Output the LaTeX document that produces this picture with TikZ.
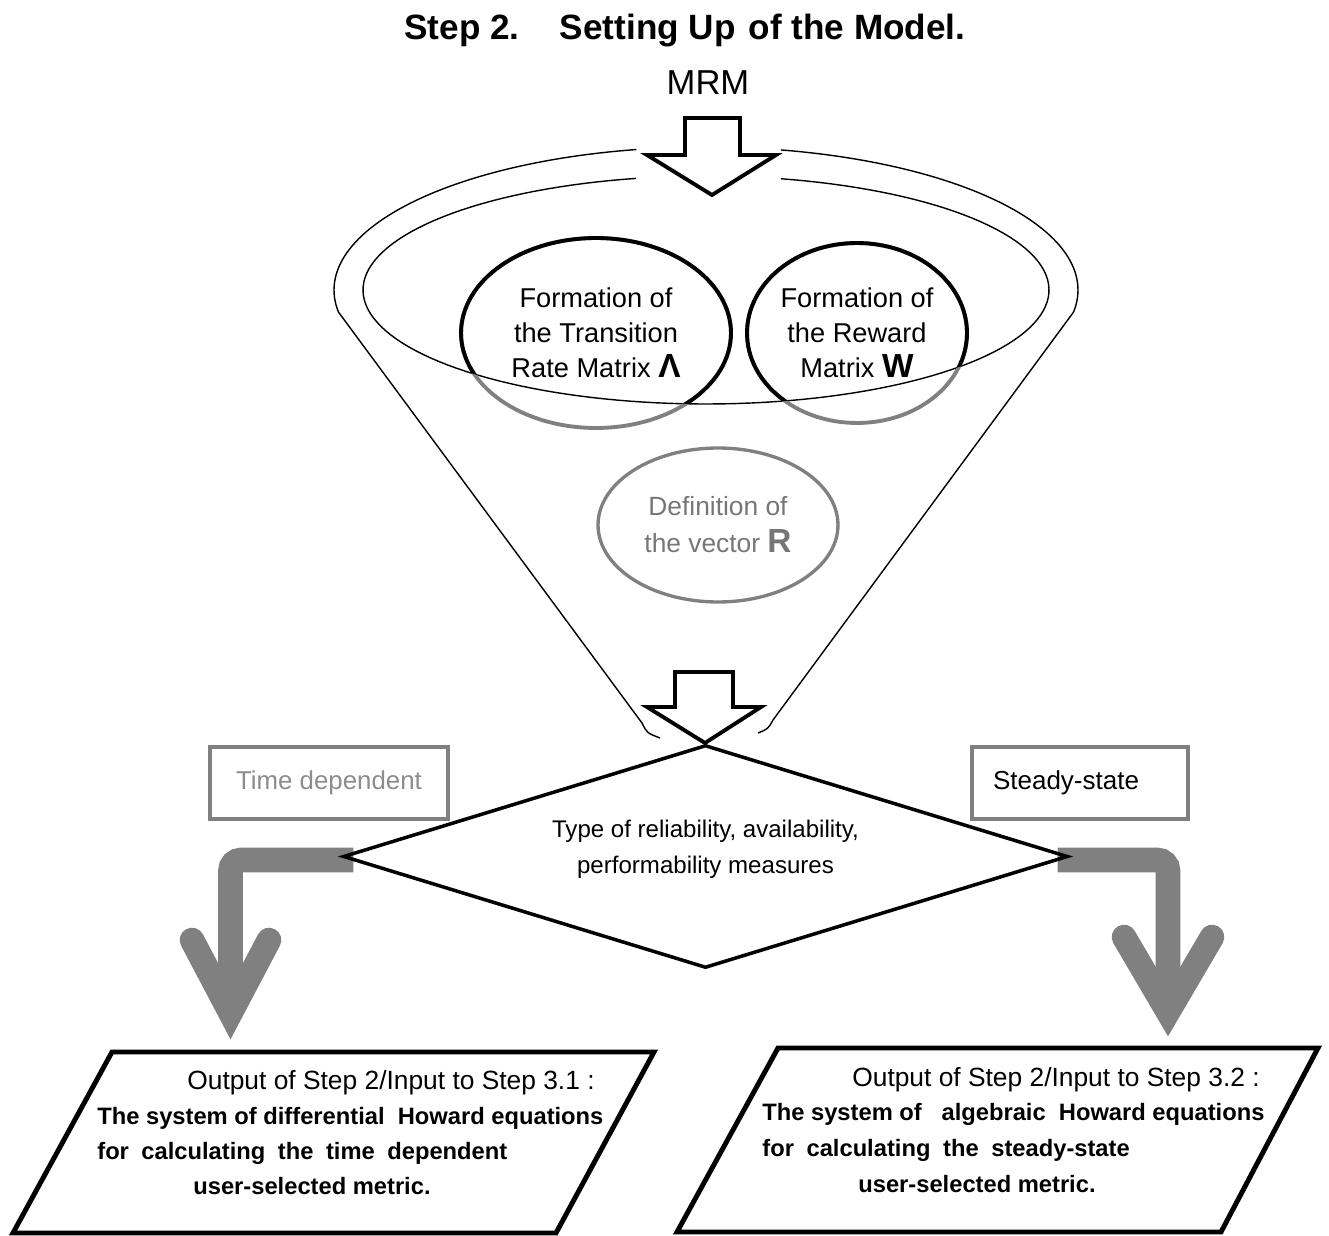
\documentclass[tikz,border=0pt]{standalone}
\usepackage{fontspec}
\setmainfont{Liberation Sans}
\usetikzlibrary{shapes.geometric,backgrounds}
\definecolor{agray}{RGB}{128,128,128}
\definecolor{tgray}{RGB}{118,118,118}
\definecolor{lgray}{RGB}{140,140,140}
\begin{document}
\begin{tikzpicture}[x=0.02cm,y=-0.02cm,
  thinline/.style={line width=0.8pt},
  blockarrow/.style={draw, line width=2.2pt, line join=miter, fill=white},
  matcircle/.style={ellipse, draw=agray, line width=2.2pt, inner sep=0pt, align=center,
                    font=\fontsize{15.5}{19.8}\selectfont},
  graybox/.style={draw=agray, line width=2.2pt, minimum height=1.44cm},
  grayarrow/.style={agray, line width=14pt},
  chevron/.style={agray, line width=14pt, line cap=round, line join=miter},
  outbox/.style={draw, line width=2.8pt, line join=miter},
  plaintxt/.style={anchor=base west, inner sep=0pt, font=\fontsize{15}{18}\selectfont},
  boldtxt/.style={anchor=base west, inner sep=0pt, font=\bfseries\fontsize{13.5}{17}\selectfont}]

\useasboundingbox (0,0) rectangle (1329,1236);

% Title and MRM
\node[anchor=base west, inner sep=0pt, font=\bfseries\fontsize{20}{24}\selectfont] (title) at (404,40)
  {Step 2.\hspace{23pt}Setting Up\hspace{7.4pt}of the Model.};
\node[anchor=base, inner sep=0pt, font=\fontsize{19.7}{24}\selectfont] (mrm) at (708,95) {MRM};

% funnel
\draw[thinline] plot[domain=259.2:171.1, samples=60] ({706+372*cos(\x)},{290+143*sin(\x)})
   coordinate (fl) -- (642,723) coordinate (flb) .. controls (647,733) .. (660,738) coordinate (fle);
\draw[thinline] plot[domain=-78.4:8.9, samples=60] ({706+372*cos(\x)},{290+143*sin(\x)})
   coordinate (fr) -- (773,720) coordinate (frb) .. controls (768,729) .. (758,733) coordinate (fre);
\draw[thinline] plot[domain=-77.4:258.2, samples=150] ({706+343*cos(\x)},{290+114*sin(\x)});

% circles
\node[matcircle, minimum width=5.4cm, minimum height=3.8cm] (lam) at (596,333)
  {Formation of\\the Transition\\Rate Matrix {\bfseries\fontsize{19}{19}\selectfont Λ}};
\node[matcircle, minimum width=4.4cm, minimum height=3.6cm] (w) at (857,333)
  {Formation of\\the Reward\\Matrix {\bfseries\fontsize{19}{19}\selectfont W}};
\begin{scope}
  \clip plot[domain=0:360, samples=150] ({706+343*cos(\x)},{290+114*sin(\x)}) -- cycle;
  \draw[line width=2.2pt] (lam.center) ellipse [x radius=2.7cm, y radius=1.9cm];
  \draw[line width=2.2pt] (w.center) ellipse [x radius=2.2cm, y radius=1.8cm];
\end{scope}

% vector R
\node[ellipse, draw=agray, line width=1.9pt, minimum width=4.8cm, minimum height=3.08cm,
      inner sep=0pt, text=tgray, align=center, font=\fontsize{15}{21}\selectfont] (r) at (718,525)
  {Definition of\\the vector {\bfseries\fontsize{19}{19}\selectfont R}};

% block arrows
\draw[blockarrow] (685,118) -- (740,118) -- (740,155) -- (776,155) -- (712,195) -- (647,155) -- (685,155) -- cycle;
\draw[blockarrow] (675,672) -- (733,672) -- (733,707) -- (761,707) -- (705,743) -- (647,707) -- (675,707) -- cycle;

% decision
\node[diamond, draw, line width=2pt, minimum width=14.5cm, minimum height=4.46cm, shape aspect=3.25,
      inner sep=0pt, text depth=11pt, align=center, font=\fontsize{13.7}{20}\selectfont] (dia) at (705.5,856.5)
  {Type of reliability, availability,\\performability measures};

\node[graybox, minimum width=4.76cm, text=lgray, font=\fontsize{14.7}{17}\selectfont] (td) at (329,783) {Time dependent};
\node[graybox, text width=3.48cm, inner xsep=0.42cm, align=left, font=\fontsize{14.8}{17}\selectfont] (ss) at (1080,783) {Steady-state};

% output boxes
\draw[outbox] (112,1052) coordinate (la) -- (654,1052) coordinate (lb) -- (556,1233) coordinate (lc) -- (13,1233) coordinate (ld) -- cycle;
\draw[outbox] (778,1048) coordinate (ra) -- (1318,1048) coordinate (rb) -- (1221,1232) coordinate (rc) -- (677,1232) coordinate (rd) -- cycle;

\coordinate (ltip) at (230.5,1013);
\coordinate (rtip) at (1168,1012);

\begin{pgfonlayer}{background}
  \draw[grayarrow, rounded corners=6pt] ([xshift=0.24cm, yshift=-0.07cm]dia.west) -| (ltip);
  \draw[chevron] (192,940) -- (ltip) -- (269,940);
  \draw[grayarrow, rounded corners=6pt] ([xshift=-0.24cm, yshift=-0.07cm]dia.east) -| (rtip);
  \draw[chevron] (1124,937) -- (rtip) -- (1212,937);
\end{pgfonlayer}

\node[plaintxt] (l1) at (187,1089) {Output of Step 2/Input to Step 3.1 :};
\node[boldtxt] (l2) at (97,1124) {The system of differential\ \ Howard equations};
\node[boldtxt] (l3) at (97,1159) {\hbox to 8.2cm{for calculating the time dependent}};
\node[boldtxt] (l4) at (193,1194) {user-selected metric.};

\node[plaintxt] (r1) at (852,1086) {Output of Step 2/Input to Step 3.2 :};
\node[boldtxt] (r2) at (762,1120) {The system of\ \ \ algebraic\ \ Howard equations};
\node[boldtxt] (r3) at (762,1156) {\hbox to 7.35cm{for calculating the steady-state}};
\node[boldtxt] (r4) at (858,1192) {user-selected metric.};

\end{tikzpicture}
\end{document}
